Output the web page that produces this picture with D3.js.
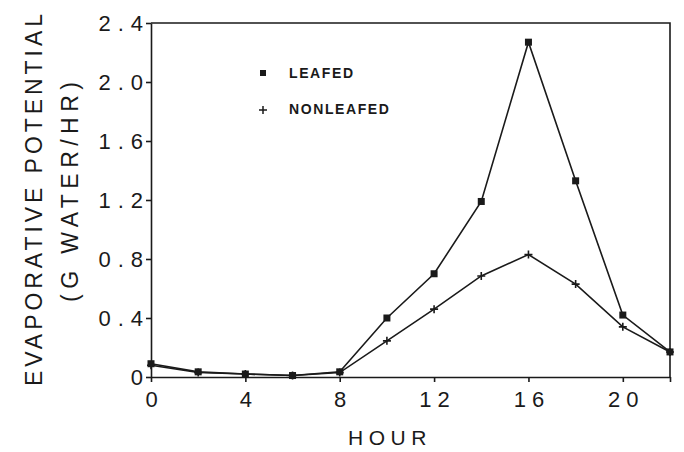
<!DOCTYPE html>
<html>
<head>
<meta charset="utf-8">
<script src="https://cdnjs.cloudflare.com/ajax/libs/d3/7.8.5/d3.min.js"></script>
<style>
  body { margin: 0; background: #fff; }
  svg text { font-family: "Liberation Sans", Arial, sans-serif; fill: #1a1a1a; }
</style>
</head>
<body>
<div class="chart"></div>
<script>
// data
const hours = [0, 2, 4, 6, 8, 10, 12, 14, 16, 18, 20, 22];
const leafed = [0.09, 0.035, 0.02, 0.01, 0.035, 0.40, 0.70, 1.19, 2.27, 1.33, 0.42, 0.17];
const nonleafed = [0.08, 0.03, 0.02, 0.01, 0.03, 0.245, 0.46, 0.685, 0.83, 0.63, 0.34, 0.17];
const xTicks = [0, 4, 8, 12, 16, 20, 22];
const yTicks = [0, 0.4, 0.8, 1.2, 1.6, 2.0, 2.4];
const yTickLabels = ['0', '0.4', '0.8', '1.2', '1.6', '2.0', '2.4'];

let margin = { top: 23, right: 14, bottom: 75, left: 151 },
    width = 684 - margin.left - margin.right,
    height = 452 - margin.top - margin.bottom;

let svg = d3.select('.chart')
    .append('svg')
    .attr('width', 684)
    .attr('height', 452)
    .append('g')
    .attr('transform', 'translate(' + margin.left + ',' + margin.top + ')');

let x = d3.scaleLinear().domain([0, 22]).range([0, width]);
let y = d3.scaleLinear().domain([0, 2.4]).range([height, 0]);

// frame (top and right)
svg.append('path')
    .attr('d', 'M0,0H' + width + 'V' + height)
    .style('fill', 'none')
    .style('stroke', '#1a1a1a')
    .style('stroke-width', 1.6);

// axes
let xAxis = d3.axisBottom(x).tickValues(xTicks).tickSize(5).tickSizeOuter(0)
    .tickFormat(d => d === 22 ? '' : d);
let yAxis = d3.axisLeft(y).tickValues(yTicks).tickSize(5).tickSizeOuter(0)
    .tickFormat((d, i) => yTickLabels[i]);

let gx = svg.append('g')
    .attr('transform', 'translate(0,' + height + ')')
    .call(xAxis);
gx.selectAll('text')
    .attr('dy', null)
    .attr('y', 30)
    .attr('dx', 3)
    .style('font-size', '22px')
    .style('letter-spacing', '6px');

let gy = svg.append('g').call(yAxis);
gy.selectAll('text')
    .attr('x', -1)
    .attr('dy', '0.36em')
    .style('font-size', '22px')
    .style('letter-spacing', '7px');

svg.selectAll('.domain, .tick line')
    .style('stroke', '#1a1a1a')
    .style('stroke-width', 1.6);

// lines
let line = d3.line()
    .x((d, i) => x(hours[i]))
    .y(d => y(d));

svg.append('path')
    .datum(nonleafed)
    .attr('d', line)
    .style('fill', 'none')
    .style('stroke', '#1a1a1a')
    .style('stroke-width', 1.6);

svg.append('path')
    .datum(leafed)
    .attr('d', line)
    .style('fill', 'none')
    .style('stroke', '#1a1a1a')
    .style('stroke-width', 1.6);

// markers
svg.selectAll('.plus')
    .data(nonleafed)
    .enter().append('path')
    .attr('d', (d, i) => 'M' + (x(hours[i]) - 4) + ',' + y(d) + 'h8M' + x(hours[i]) + ',' + (y(d) - 4) + 'v8')
    .style('stroke', '#1a1a1a')
    .style('stroke-width', 1.6);

svg.selectAll('.sq')
    .data(leafed)
    .enter().append('rect')
    .attr('x', (d, i) => x(hours[i]) - 3.5)
    .attr('y', d => y(d) - 3.5)
    .attr('width', 7)
    .attr('height', 7)
    .style('fill', '#1a1a1a');

// legend
let legend = svg.append('g').attr('transform', 'translate(' + (263 - margin.left) + ',' + (73 - margin.top) + ')');
legend.append('rect')
    .attr('x', -3).attr('y', -3).attr('width', 6).attr('height', 6)
    .style('fill', '#1a1a1a');
legend.append('text')
    .attr('x', 26).attr('y', 5)
    .style('font-size', '14px')
    .style('font-weight', 'bold')
    .style('letter-spacing', '1.6px')
    .text('LEAFED');
legend.append('path')
    .attr('d', 'M-4,37h8M0,33v8')
    .style('stroke', '#1a1a1a')
    .style('stroke-width', 1.5);
legend.append('text')
    .attr('x', 26).attr('y', 41)
    .style('font-size', '14px')
    .style('font-weight', 'bold')
    .style('letter-spacing', '1.6px')
    .text('NONLEAFED');

// axis titles
svg.append('text')
    .attr('text-anchor', 'middle')
    .attr('transform', 'translate(' + (390 - margin.left) + ',' + (445 - margin.top) + ')')
    .style('font-size', '21px')
    .style('letter-spacing', '5.5px')
    .text('HOUR');

svg.append('text')
    .attr('text-anchor', 'middle')
    .attr('transform', 'translate(' + (42 - margin.left) + ',' + (200 - margin.top) + ')rotate(-90)')
    .attr('textLength', 372)
    .attr('lengthAdjust', 'spacing')
    .style('font-size', '23px')
    .text('EVAPORATIVE POTENTIAL');

svg.append('text')
    .attr('text-anchor', 'middle')
    .attr('transform', 'translate(' + (78 - margin.left) + ',' + (192 - margin.top) + ')rotate(-90)')
    .attr('textLength', 220)
    .attr('lengthAdjust', 'spacing')
    .style('font-size', '23px')
    .text('(G WATER/HR)');
</script>
</body>
</html>
